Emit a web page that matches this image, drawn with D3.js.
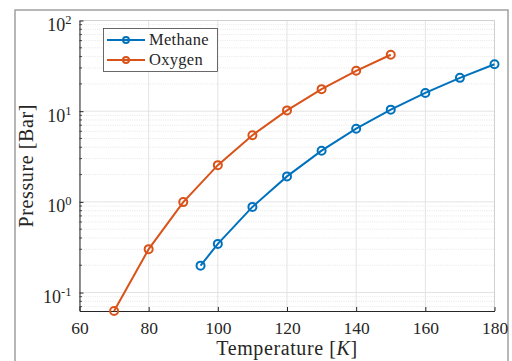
<!DOCTYPE html>
<html>
<head>
<meta charset="utf-8">
<script src="https://cdn.jsdelivr.net/npm/d3@7"></script>
<style>
  html, body { margin: 0; padding: 0; background: #fff; }
  svg { display: block; }
  text { font-family: "Liberation Serif", "DejaVu Serif", serif; fill: #262626; }
</style>
</head>
<body>
<svg id="chart" width="512" height="361"></svg>
<script>
// Vapor pressure curves
const methaneT = [95, 100, 110, 120, 130, 140, 150, 160, 170, 180];
const methaneP = [0.198, 0.344, 0.88, 1.91, 3.67, 6.41, 10.4, 15.9, 23.3, 32.9];
const oxygenT = [70, 80, 90, 100, 110, 120, 130, 140, 150];
const oxygenP = [0.0626, 0.301, 0.994, 2.54, 5.43, 10.2, 17.5, 27.9, 41.9];
const xTicks = [60, 80, 100, 120, 140, 160, 180];
const yDecades = [-1, 0, 1, 2];
const seriesNames = ["Methane", "Oxygen"];
const seriesColors = ["#0072BD", "#D95319"];

const svg = d3.select("#chart");
const plotL = 79.5, plotR = 494.5, plotT = 20.5, plotB = 311;

// outer figure frame
svg.append("rect").attr("x", 15).attr("y", 10).attr("width", 493).attr("height", 400)
  .attr("fill", "none").attr("stroke", "#a0a0a0").attr("stroke-width", 1.5);

const x = d3.scaleLinear().domain([60, 180]).range([plotL, plotR]);
const y = d3.scaleLog().domain([d3.min(oxygenP), 100]).range([plotB, plotT]);

const g = svg.append("g");

// minor horizontal grid (dotted)
const minorY = [];
for (let k = -2; k <= 1; k++) for (let m = 2; m <= 9; m++) {
  const v = m * Math.pow(10, k);
  if (v >= y.domain()[0] && v <= 100) minorY.push(v);
}
g.selectAll(".minor").data(minorY).enter().append("line")
  .attr("x1", plotL).attr("x2", plotR)
  .attr("y1", d => y(d)).attr("y2", d => y(d))
  .attr("stroke", "#d6d6d6").attr("stroke-width", 0.6).attr("stroke-dasharray", "1,1.2");

// major grid
g.selectAll(".majY").data(yDecades.map(k => Math.pow(10, k))).enter().append("line")
  .attr("x1", plotL).attr("x2", plotR)
  .attr("y1", d => y(d)).attr("y2", d => y(d))
  .attr("stroke", "#e3e3e3").attr("stroke-width", 1);
g.selectAll(".majX").data(xTicks).enter().append("line")
  .attr("x1", d => x(d)).attr("x2", d => x(d))
  .attr("y1", plotT).attr("y2", plotB)
  .attr("stroke", "#e3e3e3").attr("stroke-width", 1);

// light box on top and right
g.append("path").attr("d", `M${plotL},${plotT}H${plotR}V${plotB}`)
  .attr("fill", "none").attr("stroke", "#d0d0d0").attr("stroke-width", 1);

// x axis
const xAxis = d3.axisBottom(x).tickValues(xTicks).tickSizeInner(-4).tickSizeOuter(0).tickPadding(11);
const xg = svg.append("g").attr("transform", `translate(0,${plotB})`).call(xAxis);
xg.select(".domain").attr("stroke", "#262626").attr("stroke-width", 1);
xg.selectAll(".tick line").attr("stroke", "#262626");
xg.selectAll(".tick text").attr("font-size", 17.5).attr("font-family", "Liberation Serif").attr("fill", "#262626");

// y axis with superscript decade labels
const yAxis = d3.axisLeft(y).tickValues(yDecades.map(k => Math.pow(10, k))).tickSizeInner(-4).tickSizeOuter(0).tickPadding(6)
  .tickFormat(() => "");
const yg = svg.append("g").attr("transform", `translate(${plotL},0)`).call(yAxis);
yg.select(".domain").attr("stroke", "#262626").attr("stroke-width", 1);
yg.selectAll(".tick line").attr("stroke", "#262626");
yg.selectAll(".mtick").data(minorY).enter().append("line")
  .attr("x1", 0).attr("x2", 2.5).attr("y1", d => y(d)).attr("y2", d => y(d))
  .attr("stroke", "#262626").attr("stroke-width", 0.8);
yDecades.forEach(k => {
  const t = yg.append("text").attr("x", -8).attr("y", y(Math.pow(10, k)) + 10.5)
    .attr("text-anchor", "end").attr("font-size", 18).attr("fill", "#262626");
  t.append("tspan").text("10");
  t.append("tspan").attr("dy", -7).attr("font-size", 12.5).text(k);
});

// axis titles
svg.append("text").attr("x", 287).attr("y", 355).attr("text-anchor", "middle").attr("font-size", 20)
  .attr("letter-spacing", 0.6)
  .html('Temperature [<tspan font-style="italic">K</tspan>]');
svg.append("text").attr("transform", `translate(33,${(plotT + plotB) / 2}) rotate(-90)`)
  .attr("text-anchor", "middle").attr("font-size", 20).attr("letter-spacing", 0.6).text("Pressure [Bar]");

// series
const series = [
  { name: seriesNames[0], color: seriesColors[0], pts: methaneT.map((t, i) => [t, methaneP[i]]) },
  { name: seriesNames[1], color: seriesColors[1], pts: oxygenT.map((t, i) => [t, oxygenP[i]]) }
];
const line = d3.line().x(d => x(d[0])).y(d => y(d[1]));
series.forEach(s => {
  svg.append("path").attr("d", line(s.pts)).attr("fill", "none")
    .attr("stroke", s.color).attr("stroke-width", 2);
  svg.selectAll(null).data(s.pts).enter().append("circle")
    .attr("cx", d => x(d[0])).attr("cy", d => y(d[1])).attr("r", 4)
    .attr("fill", "none").attr("stroke", s.color).attr("stroke-width", 2);
});

// legend
const lg = svg.append("g");
lg.append("rect").attr("x", 103.5).attr("y", 28.5).attr("width", 114).attr("height", 43)
  .attr("fill", "#fff").attr("stroke", "#444").attr("stroke-width", 0.8);
series.forEach((s, i) => {
  const yy = 40 + i * 20;
  lg.append("line").attr("x1", 107).attr("x2", 145).attr("y1", yy).attr("y2", yy)
    .attr("stroke", s.color).attr("stroke-width", 2);
  lg.append("circle").attr("cx", 126).attr("cy", yy).attr("r", 3)
    .attr("fill", "none").attr("stroke", s.color).attr("stroke-width", 2);
  lg.append("text").attr("x", 149).attr("y", yy + 4.5).attr("font-size", 16.5)
    .attr("letter-spacing", 0.3).text(s.name);
});
</script>
</body>
</html>
